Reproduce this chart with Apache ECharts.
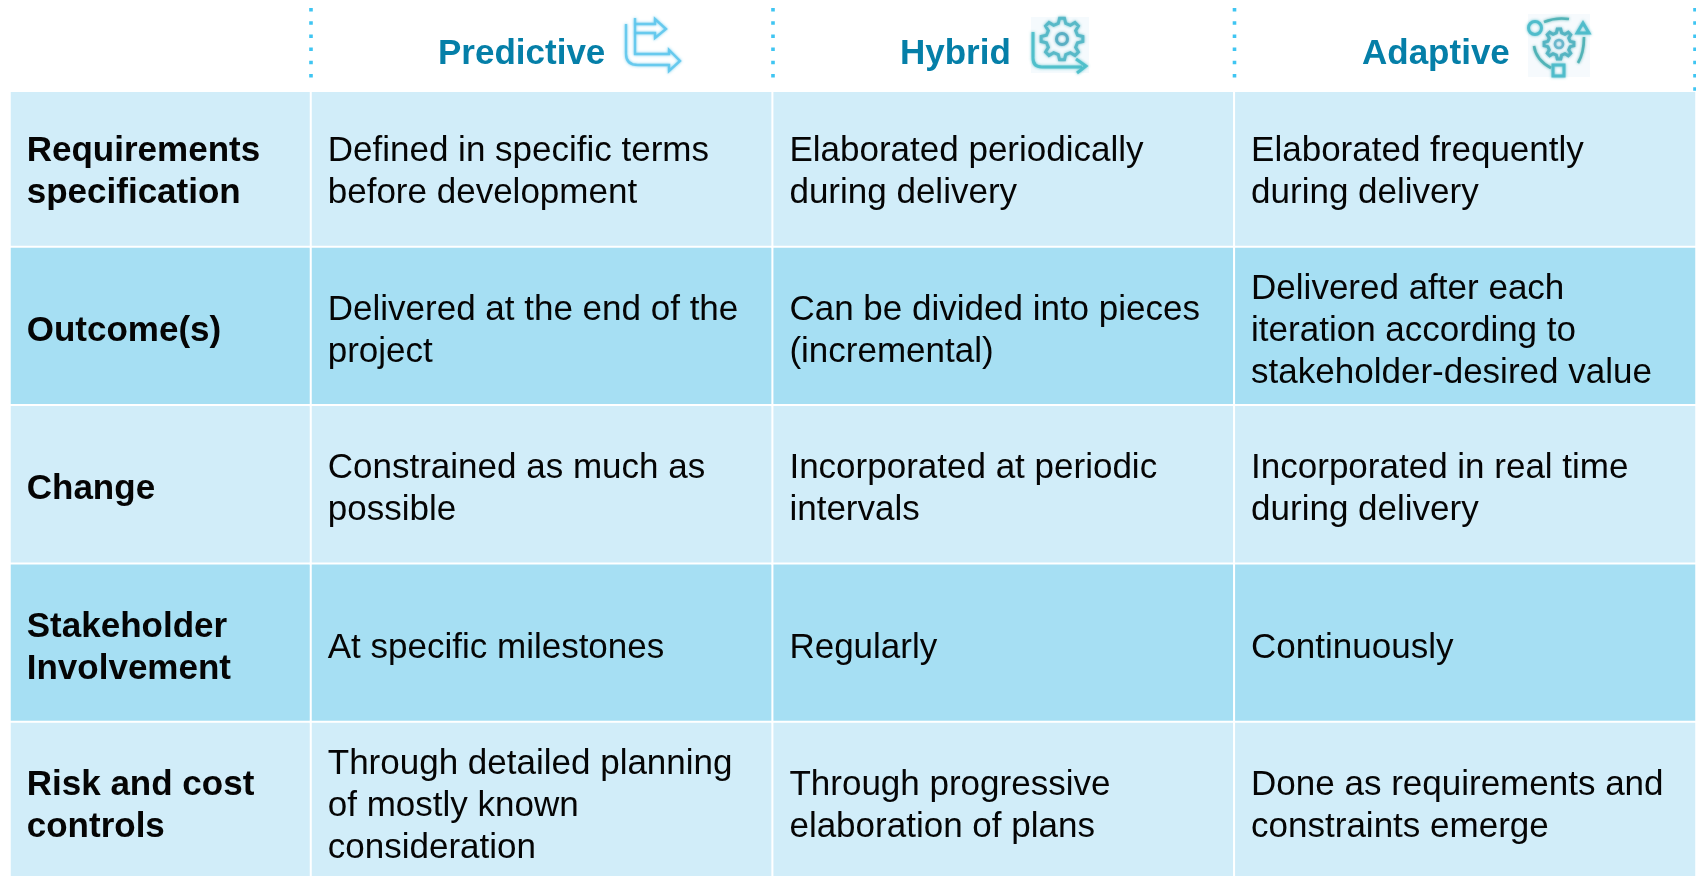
<!DOCTYPE html>
<html>
<head>
<meta charset="utf-8">
<title>Predictive, Hybrid, Adaptive</title>
<style>
html,body{margin:0;padding:0;background:#fff;}
#main{width:1696px;height:876px;}
</style>
<script src="https://cdn.jsdelivr.net/npm/echarts@6/dist/echarts.min.js"></script>
</head>
<body>
<div id="main"></div>
<script>
const approaches=['Predictive','Hybrid','Adaptive']
const aspects=['Requirements\nspecification','Outcome(s)','Change','Stakeholder\nInvolvement','Risk and cost\ncontrols']
const rowShade=[0,1,0,1,0]
const predictive=[
  'Defined in specific terms\nbefore development',
  'Delivered at the end of the\nproject',
  'Constrained as much as\npossible',
  'At specific milestones',
  'Through detailed planning\nof mostly known\nconsideration'
]
const hybrid=[
  'Elaborated periodically\nduring delivery',
  'Can be divided into pieces\n(incremental)',
  'Incorporated at periodic\nintervals',
  'Regularly',
  'Through progressive\nelaboration of plans'
]
const adaptive=[
  'Elaborated frequently\nduring delivery',
  'Delivered after each\niteration according to\nstakeholder-desired value',
  'Incorporated in real time\nduring delivery',
  'Continuously',
  'Done as requirements and\nconstraints emerge'
]
const columns=[predictive,hybrid,adaptive]

const LIGHT='#d1edf9'
const DARK='#a6dff3'
const FONT='"Liberation Sans", Arial, sans-serif'

// 表头右边的小图标
function iconStyle(color,width){
  return {fill:'none',stroke:color,lineWidth:width,shadowBlur:3,shadowColor:color,opacity:0.85}
}
function poly(points,color,width){
  return {type:'polyline',z:5,shape:{points:points},style:iconStyle(color,width)}
}
function curve(x1,y1,cx,cy,x2,y2,color,width){
  return {type:'bezierCurve',z:5,shape:{x1:x1,y1:y1,cpx1:cx,cpy1:cy,x2:x2,y2:y2},style:iconStyle(color,width)}
}
function ring(cx,cy,r,color,width){
  return {type:'circle',z:5,shape:{cx:cx,cy:cy,r:r},style:iconStyle(color,width)}
}
function gear(cx,cy,r,n,color,width){
  const pts=[]
  const step=Math.PI*2/n
  for(let i=0;i<n;i++){
    const a=i*step
    ;[[a-step*0.3,r*0.76],[a-step*0.15,r],[a+step*0.15,r],[a+step*0.3,r*0.76]].forEach(p=>{
      pts.push([cx+Math.cos(p[0])*p[1],cy+Math.sin(p[0])*p[1]])
    })
  }
  return {type:'polygon',z:5,shape:{points:pts},style:iconStyle(color,width)}
}
function dots(x,y2){
  return {
    type:'line',
    z:5,
    shape:{x1:x,y1:8,x2:x,y2:y2},
    style:{stroke:'#3fc5f2',lineWidth:3.6,lineDash:[3.5,9.7]}
  }
}
function header(text,x){
  return {
    type:'text',
    z:5,
    style:{x:x,y:54,text:text,fill:'#057fa8',font:'bold 35px '+FONT,verticalAlign:'middle'}
  }
}

const graphics=[
  {type:'rect',z:4,shape:{x:0,y:0,width:1696,height:92},style:{fill:'#fff'}},
  dots(311,80),dots(773,80),dots(1234.5,80),dots(1695,92),
  header(approaches[0],438),header(approaches[1],900),header(approaches[2],1362),
  // Predictive
  poly([[626,24],[626,54]],'#5cc5ec',2.4),
  curve(626,54,626,65,638,65,'#5cc5ec',2.4),
  poly([[638,65],[669,65],[669,71],[680,61],[669,50],[669,54],[635,54],[635,18]],'#5cc5ec',2.4),
  poly([[635,24],[655,24],[655,19],[666,29],[655,38],[655,33],[635,33]],'#5cc5ec',2.4),
  // Hybrid
  {type:'rect',z:5,shape:{x:1031,y:17,width:58,height:56},style:{fill:'rgba(225,240,250,0.35)'}},
  gear(1062,39,21,8,'#4fb5c4',3),
  ring(1062,39,5.5,'#4fa9bf',3),
  poly([[1033,32],[1033,58]],'#45bcc8',3),
  curve(1033,58,1033,67,1042,67,'#45bcc8',3),
  poly([[1042,67],[1082,67]],'#45bcc8',3),
  poly([[1076,59],[1086,66],[1077,73]],'#45bcc8',3),
  // Adaptive
  {type:'rect',z:5,shape:{x:1528,y:14,width:62,height:63},style:{fill:'rgba(225,240,250,0.3)'}},
  gear(1559,44,15,8,'#4bb0be',3),
  ring(1559,44,4,'#5fb2c8',2.6),
  ring(1535,28,6.5,'#45b8c8',3),
  curve(1544,22,1556,17,1569,19,'#45aeb2',2.6),
  {type:'polygon',z:5,shape:{points:[[1577,33],[1583,23],[1589,33]]},style:iconStyle('#45b8c8',3)},
  curve(1584,37,1584,53,1578,63,'#45aeb2',2.6),
  {type:'rect',z:5,shape:{x:1553,y:65,width:11,height:11},style:iconStyle('#45b8c8',3)},
  curve(1534,46,1536,60,1551,68,'#45aeb2',2.6)
]

const cellLabel={
  show:true,
  position:'insideLeft',
  distance:18,
  offset:[0,5],
  align:'left',
  verticalAlign:'middle',
  color:'#050505',
  fontFamily:FONT,
  fontSize:35,
  lineHeight:42
}

const firstCol=aspects.map((t,i)=>[0,i,rowShade[i]])
const restCols=[]
columns.forEach((col,c)=>col.forEach((t,i)=>restCols.push([c,i,rowShade[i]])))

const option={
  animation:false,
  backgroundColor:'#fff',
  grid:[
    {left:10,top:88.5,width:301,height:792,outerBoundsMode:'none'},
    {left:311,top:88.5,width:1385,height:792,outerBoundsMode:'none'}
  ],
  xAxis:[
    {type:'category',gridIndex:0,show:false,data:['Aspect']},
    {type:'category',gridIndex:1,show:false,data:approaches}
  ],
  yAxis:[
    {type:'category',gridIndex:0,show:false,inverse:true,data:aspects},
    {type:'category',gridIndex:1,show:false,inverse:true,data:aspects}
  ],
  visualMap:{
    type:'piecewise',
    show:false,
    dimension:2,
    seriesIndex:[0,1],
    pieces:[{value:0,color:LIGHT},{value:1,color:DARK}]
  },
  series:[
    {
      type:'heatmap',
      xAxisIndex:0,
      yAxisIndex:0,
      data:firstCol,
      itemStyle:{borderColor:'#fff',borderWidth:2},
      label:Object.assign({},cellLabel,{
        fontWeight:'bold',
        formatter:p=>aspects[p.data[1]]
      }),
      emphasis:{disabled:true}
    },
    {
      type:'heatmap',
      xAxisIndex:1,
      yAxisIndex:1,
      data:restCols,
      itemStyle:{borderColor:'#fff',borderWidth:2},
      label:Object.assign({},cellLabel,{
        formatter:p=>columns[p.data[0]][p.data[1]]
      }),
      emphasis:{disabled:true}
    }
  ],
  graphic:graphics
}
echarts.init(document.getElementById('main')).setOption(option)
</script>
</body>
</html>
